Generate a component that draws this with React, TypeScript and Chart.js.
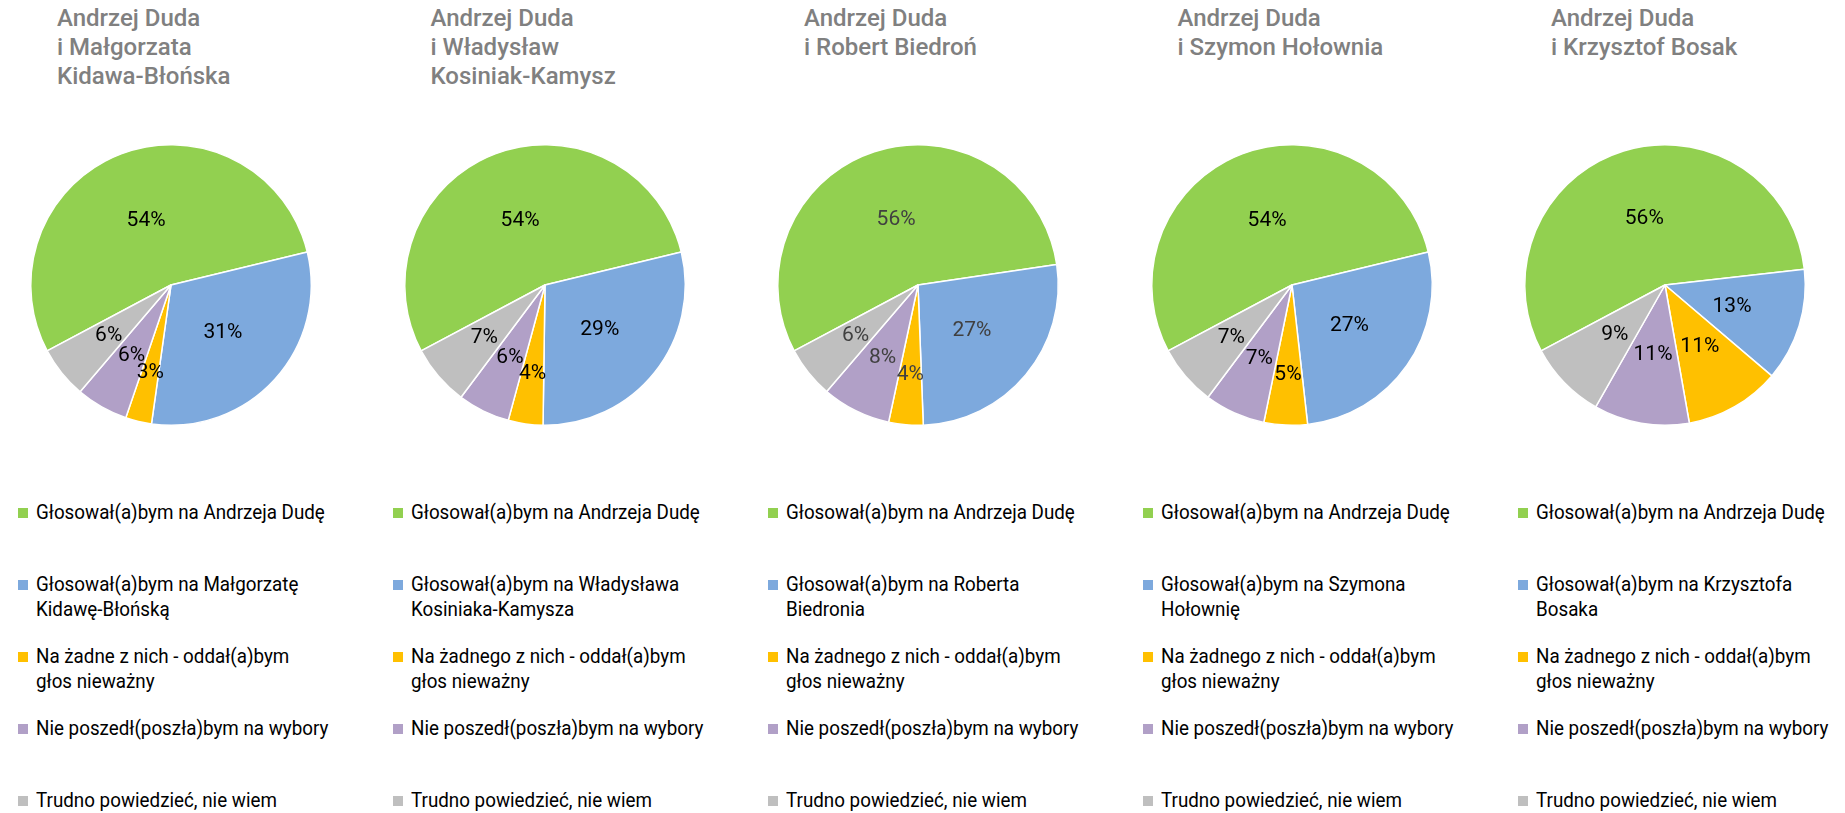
import React, { useEffect, useRef } from "react";
import { Chart, registerables } from "chart.js";
Chart.register(...registerables);

// ---- data ----
const chartTitles = [
  "Andrzej Duda\ni Małgorzata\nKidawa-Błońska",
  "Andrzej Duda\ni Władysław\nKosiniak-Kamysz",
  "Andrzej Duda\ni Robert Biedroń",
  "Andrzej Duda\ni Szymon Hołownia",
  "Andrzej Duda\ni Krzysztof Bosak",
];
const dudaLabel = "Głosował(a)bym na Andrzeja Dudę";
const rivalLabels = [
  "Głosował(a)bym na Małgorzatę\nKidawę-Błońską",
  "Głosował(a)bym na Władysława\nKosiniaka-Kamysza",
  "Głosował(a)bym na Roberta\nBiedronia",
  "Głosował(a)bym na Szymona\nHołownię",
  "Głosował(a)bym na Krzysztofa\nBosaka",
];
const invalidLabels = [
  "Na żadne z nich - oddał(a)bym\ngłos nieważny",
  "Na żadnego z nich - oddał(a)bym\ngłos nieważny",
  "Na żadnego z nich - oddał(a)bym\ngłos nieważny",
  "Na żadnego z nich - oddał(a)bym\ngłos nieważny",
  "Na żadnego z nich - oddał(a)bym\ngłos nieważny",
];
const abstainLabel = "Nie poszedł(poszła)bym na wybory";
const unsureLabel = "Trudno powiedzieć, nie wiem";

const dudaValues = [54, 54, 56, 54, 56];
const rivalValues = [31, 29, 27, 27, 13];
const invalidValues = [3, 4, 4, 5, 11];
const abstainValues = [6, 6, 8, 7, 11];
const unsureValues = [6, 7, 6, 7, 9];

// ---- styles ----
const sliceColors = ["#92D050", "#7DA9DD", "#FFC000", "#B1A0C7", "#BFBFBF"];
const labelColors = ["#000000", "#000000", "#404040", "#000000", "#000000"];
const PANEL_STEP = 373.5;
const LEGEND_STEP = 375;
const CANVAS = 292;

const pieLabelsPlugin = {
  id: "pieLabels",
  afterDatasetsDraw(chart: any, _args: any, opts: any) {
    const ctx = chart.ctx;
    const meta = chart.getDatasetMeta(0);
    const data: number[] = chart.data.datasets[0].data;
    const total = data.reduce((a, b) => a + b, 0);
    ctx.save();
    ctx.font = "21px Roboto";
    ctx.fillStyle = opts.color || "#000";
    ctx.textAlign = "center";
    ctx.textBaseline = "middle";
    meta.data.forEach((arc: any, i: number) => {
      const p = arc.getProps(["x", "y", "startAngle", "endAngle", "outerRadius"], true);
      const mid = (p.startAngle + p.endAngle) / 2;
      const frac = data[i] / total;
      const f = frac >= 0.09 ? 0.5 : frac <= 0.055 ? 0.635 : 0.57;
      ctx.fillText(
        `${data[i]}%`,
        p.x + Math.cos(mid) * p.outerRadius * f,
        p.y + Math.sin(mid) * p.outerRadius * f + 1
      );
    });
    ctx.restore();
  },
};

function PieChart({ idx }: { idx: number }) {
  const ref = useRef<HTMLCanvasElement>(null);
  useEffect(() => {
    if (!ref.current) return;
    const chart = new Chart(ref.current, {
      type: "pie",
      data: {
        labels: [dudaLabel, rivalLabels[idx], invalidLabels[idx], abstainLabel, unsureLabel],
        datasets: [
          {
            data: [dudaValues[idx], rivalValues[idx], invalidValues[idx], abstainValues[idx], unsureValues[idx]],
            backgroundColor: sliceColors,
            borderColor: "#ffffff",
            borderWidth: 1.5,
          },
        ],
      },
      options: {
        animation: false,
        responsive: false,
        rotation: 242,
        layout: { padding: 5 },
        plugins: {
          legend: { display: false },
          tooltip: { enabled: false },
          pieLabels: { color: labelColors[idx] },
        } as any,
      },
      plugins: [pieLabelsPlugin],
    });
    return () => chart.destroy();
  }, [idx]);
  const cx = 171 + PANEL_STEP * idx;
  return (
    <canvas
      ref={ref}
      width={CANVAS}
      height={CANVAS}
      style={{ position: "absolute", left: cx - CANVAS / 2, top: 285 - CANVAS / 2, width: CANVAS, height: CANVAS }}
    />
  );
}

function Legend({ idx }: { idx: number }) {
  const items = [dudaLabel, rivalLabels[idx], invalidLabels[idx], abstainLabel, unsureLabel];
  const left = 18 + LEGEND_STEP * idx;
  return (
    <>
      {items.map((t, k) => (
        <div
          key={k}
          style={{ position: "absolute", left, top: 499.5 + 72 * k, width: 360, height: 50 }}
        >
          <div
            style={{
              position: "absolute",
              left: 0,
              top: 8,
              width: 10,
              height: 10,
              background: sliceColors[k],
            }}
          />
          <div
            style={{
              position: "absolute",
              left: 18,
              top: 0,
              whiteSpace: "pre",
              font: "21px/25px Roboto",
              color: "#000",
              transform: "scaleX(0.895)",
              transformOrigin: "left top",
            }}
          >
            {t}
          </div>
        </div>
      ))}
    </>
  );
}

export default function App() {
  return (
    <div
      style={{
        position: "absolute",
        left: 0,
        top: 0,
        width: 1845,
        height: 813,
        background: "#ffffff",
        overflow: "hidden",
        fontFamily: "Roboto",
      }}
    >
      {chartTitles.map((title, i) => (
        <div
          key={"t" + i}
          style={{
            position: "absolute",
            left: 57 + PANEL_STEP * i,
            top: 4,
            whiteSpace: "pre",
            font: "500 24px/29px Roboto",
            color: "#808080",
          }}
        >
          {title}
        </div>
      ))}
      {chartTitles.map((_, i) => (
        <PieChart key={"p" + i} idx={i} />
      ))}
      {chartTitles.map((_, i) => (
        <Legend key={"l" + i} idx={i} />
      ))}
    </div>
  );
}
